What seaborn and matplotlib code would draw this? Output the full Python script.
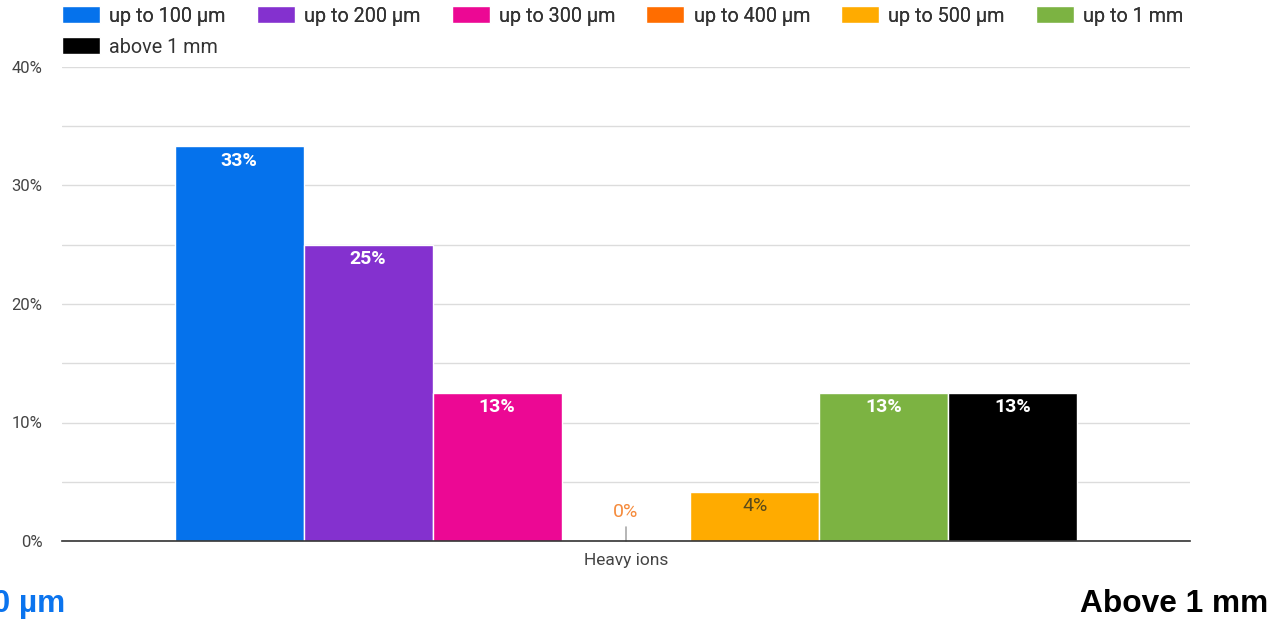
import matplotlib
matplotlib.use("Agg")
import matplotlib.pyplot as plt
from matplotlib.ticker import MultipleLocator, FuncFormatter
import seaborn as sns
import pandas as pd
import numpy as np

# ---- data ----
categories = ["Heavy ions"]
sizes = ["up to 100 µm", "up to 200 µm", "up to 300 µm", "up to 400 µm",
         "up to 500 µm", "up to 1 mm", "above 1 mm"]
values = [33.33, 25.0, 12.5, 0.0, 4.17, 12.5, 12.5]
colors = ["#0572EC", "#8431CF", "#EC0894", "#FF6D00", "#FFAB00", "#7CB342", "#000000"]
yticks = [0, 10, 20, 30, 40]

df = pd.DataFrame({"category": categories * len(sizes), "size": sizes, "value": values})

sns.set_theme(style="white")
plt.rcParams["font.family"] = ["Roboto", "DejaVu Sans"]

W, H = 1272, 619
fig = plt.figure(figsize=(W / 100, H / 100), dpi=100)
ax = fig.add_axes([62 / W, 1 - 541 / H, (1190 - 62) / W, (541 - 67) / H])

sns.barplot(data=df, x="category", y="value", hue="size", hue_order=sizes,
            palette=colors, width=0.8, dodge=True, edgecolor="white",
            linewidth=1.0, ax=ax, saturation=1, errorbar=None, legend=True)

handles, labels = ax.get_legend_handles_labels()
if ax.legend_ is not None:
    ax.legend_.remove()

ax.set_xlim(-0.5, 0.5)
ax.set_ylim(0, 40)
ax.set_yticks(yticks)
ax.yaxis.set_minor_locator(MultipleLocator(5))
ax.yaxis.set_major_formatter(FuncFormatter(lambda v, p: f"{int(v)}%"))
ax.grid(True, axis="y", which="both", color="#dcdcdc", linewidth=1.0)
ax.set_axisbelow(True)
for s in ["top", "right", "left"]:
    ax.spines[s].set_visible(False)
ax.spines["bottom"].set_color("#333333")
ax.spines["bottom"].set_linewidth(1.2)
ax.spines["bottom"].set_zorder(5)
ax.tick_params(axis="y", which="both", length=0, pad=14, labelsize=12, labelcolor="#444444")
ax.tick_params(axis="x", length=0, pad=9, labelsize=12.5, labelcolor="#444444")
ax.set_xlabel("")
ax.set_ylabel("")

# ---- value labels ----
label_colors = ["white", "white", "white", "#F58B3C", "#5a4a1a", "white", "white"]
for cont, val, lc in zip(ax.containers, values, label_colors):
    weight = "bold" if lc == "white" else "normal"
    for bar in cont:
        x = bar.get_x() + bar.get_width() / 2
        h = bar.get_height()
        txt = f"{int(np.floor(val + 0.5))}%"
        if h < 1:
            ax.annotate(txt, xy=(x, h), xytext=(0, 21), textcoords="offset points",
                        ha="center", va="center", fontsize=14, color=lc,
                        fontweight=weight,
                        arrowprops=dict(arrowstyle="-", color="#999999", lw=1,
                                        shrinkA=2, shrinkB=0))
        else:
            ax.annotate(txt, xy=(x, h), xytext=(0, -10.5), textcoords="offset points",
                        ha="center", va="center", fontsize=14, color=lc,
                        fontweight=weight)

# ---- legend ----
leg_kw = dict(frameon=False, fontsize=14.2, handlelength=1.93, handleheight=0.96,
              handletextpad=0.46, columnspacing=1.58, borderpad=0, borderaxespad=0,
              labelcolor="#333333")
leg1 = fig.legend(handles[:6], labels[:6], ncol=6, loc="center left",
                  bbox_to_anchor=(62 / W, 1 - 16 / H), **leg_kw)
leg2 = fig.legend(handles[6:], labels[6:], ncol=1, loc="center left",
                  bbox_to_anchor=(62 / W, 1 - 47 / H), **leg_kw)
fig.add_artist(leg1)

# ---- captions at the bottom (the left one runs off the edge, as in the reference) ----
fig.text(65 / W, 1 - 604 / H, "Up to 100 µm", ha="right", va="center",
         fontsize=22.8, fontweight="bold", color="#0B74EE", family="Liberation Sans")
fig.text(1268 / W, 1 - 604 / H, "Above 1 mm", ha="right", va="center",
         fontsize=22.8, fontweight="bold", color="#000000", family="Liberation Sans")

fig.savefig("out.png", dpi=100)
